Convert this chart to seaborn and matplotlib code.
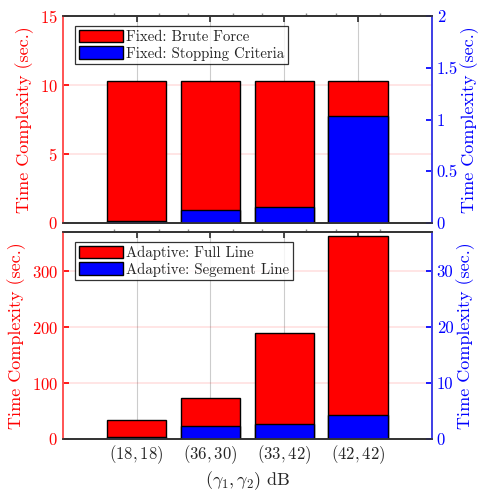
import numpy as np
import pandas as pd
import matplotlib
matplotlib.use("Agg")
import matplotlib.pyplot as plt
from matplotlib.patches import Patch
from matplotlib.ticker import FixedLocator
import seaborn as sns

# values
labels = ['(18,18)', '(36,30)', '(33,42)', '(42,42)']
fixed_brute = [10.3, 10.3, 10.3, 10.3]          # left axis (sec.)
fixed_stop = [0.015, 0.123, 0.157, 1.034]       # right axis (sec.)
adaptive_full = [33, 73, 189, 363]              # left axis (sec.)
adaptive_seg = [0.25, 2.3, 2.7, 4.3]            # right axis (sec.)

sns.set_theme(style="white")
plt.rcParams['font.family'] = ['cmr10', 'DejaVu Serif']
plt.rcParams['mathtext.fontset'] = 'cm'
plt.rcParams['axes.unicode_minus'] = False
plt.rcParams['axes.formatter.use_mathtext'] = True
plt.rcParams['xtick.direction'] = 'in'
plt.rcParams['ytick.direction'] = 'in'

RED = '#ff0000'
BLUE = '#0000ff'
SP_RED = '#ff5555'
SP_BLUE = '#4444ff'


def panel(ax, left_vals, right_vals, left_lim, left_ticks, right_lim, right_ticks,
          leg_labels, show_x):
    df = pd.DataFrame({'cat': labels, 'left': left_vals, 'right': right_vals})
    sns.barplot(data=df, x='cat', y='left', ax=ax, color=RED, saturation=1,
                edgecolor='black', linewidth=1.0, width=0.8, zorder=2)
    ax.set_ylim(*left_lim)
    ax.set_yticks(left_ticks)
    ax.grid(axis='y', color=RED, alpha=0.12, lw=1.2, zorder=0)
    ax.grid(axis='x', color='#cccccc', lw=0.8, zorder=0)
    ax.set_axisbelow(True)
    ax.set_ylabel('Time Complexity (sec.)', color=RED, fontsize=13, labelpad=4)
    ax.tick_params(axis='y', colors=RED, labelsize=12, length=4)
    ax.tick_params(axis='x', top=True, bottom=True, length=4, color='#333333')
    ax.spines['left'].set_color(SP_RED)
    ax.spines['top'].set_color('#333333')
    ax.spines['bottom'].set_color('#333333')

    axr = ax.twinx()
    sns.barplot(data=df, x='cat', y='right', ax=axr, color=BLUE, saturation=1,
                edgecolor='black', linewidth=1.0, width=0.8)
    axr.set_ylim(*right_lim)
    axr.set_yticks(right_ticks)
    axr.set_yticklabels(['%g' % t for t in right_ticks])
    axr.set_ylabel('Time Complexity (sec.)', color=BLUE, fontsize=13, labelpad=2)
    axr.tick_params(axis='y', colors=BLUE, labelsize=12, length=4)
    axr.spines['right'].set_color(SP_BLUE)
    axr.spines['left'].set_color(SP_RED)
    axr.spines['top'].set_color('#333333')
    axr.spines['bottom'].set_color('#333333')
    axr.grid(False)

    ax.set_xlim(-1, 4)
    ax.set_xticks(range(len(labels)))
    ax.xaxis.set_minor_locator(FixedLocator([i + d for i in range(len(labels)) for d in (-0.3, 0.3)]))
    ax.tick_params(axis='x', which='minor', top=True, bottom=False, direction='out',
                   length=2, color='#888888')
    if show_x:
        ax.set_xticklabels(['$' + l + '$' for l in labels], fontsize=12)
        ax.set_xlabel(r'$(\gamma_1,\gamma_2)$ dB', fontsize=13, labelpad=2)
    else:
        ax.set_xticklabels([])
        ax.set_xlabel('')
    axr.set_xlabel('')

    handles = [Patch(facecolor=RED, edgecolor='black'), Patch(facecolor=BLUE, edgecolor='black')]
    leg = axr.legend(handles, leg_labels, loc='upper left', bbox_to_anchor=(0.033, 0.952),
                     fontsize=10.7, frameon=True, fancybox=False, edgecolor='black',
                     handlelength=3.0, handleheight=0.9, handletextpad=0.2,
                     borderpad=0.25, labelspacing=0.15, borderaxespad=0)
    leg.get_frame().set_linewidth(0.9)
    return axr


fig = plt.figure(figsize=(4.83, 4.92), dpi=100)
ax1 = fig.add_axes([0.130, 0.547, 0.764, 0.420])
ax2 = fig.add_axes([0.130, 0.108, 0.764, 0.420])

panel(ax1, fixed_brute, fixed_stop, (0, 15), [0, 5, 10, 15], (0, 2), [0, 0.5, 1, 1.5, 2],
      ['Fixed: Brute Force', 'Fixed: Stopping Criteria'], False)
panel(ax2, adaptive_full, adaptive_seg, (0, 370), [0, 100, 200, 300], (0, 37), [0, 10, 20, 30],
      ['Adaptive: Full Line', 'Adaptive: Segement Line'], True)

fig.savefig('out.png', dpi=100)
